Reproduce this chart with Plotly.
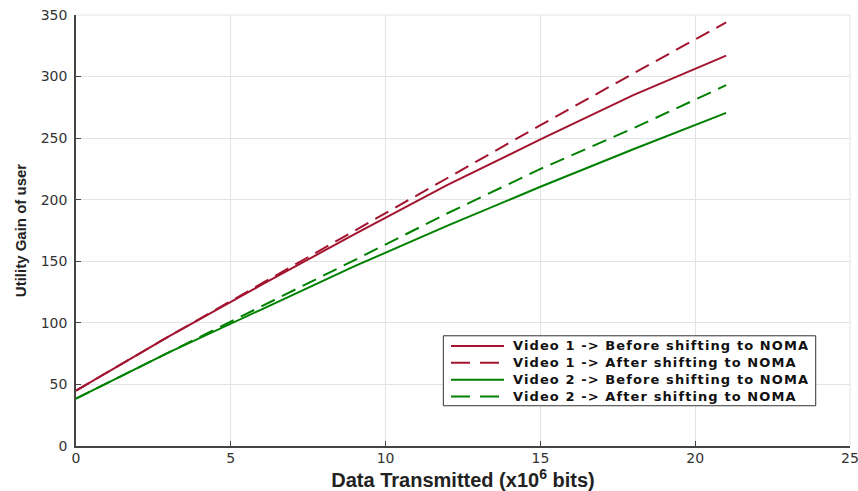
import plotly.graph_objects as go

x_vals = [0, 3, 6, 9, 12, 15, 18, 21]
video1_before = [45, 89, 131, 172, 212, 249, 285, 317]
video1_after = [45, 89, 132, 175, 218, 260.5, 302.5, 344]
video2_before = [38.5, 76, 111, 146, 179, 210.5, 241, 270.5]
video2_after = [38.5, 76, 113, 151, 189, 225, 258, 293]

names = ["Video 1 -> Before shifting to NOMA", "Video 1 -> After shifting to NOMA",
         "Video 2 -> Before shifting to NOMA", "Video 2 -> After shifting to NOMA"]
RED = "#A2142F"
GREEN = "#008000"
DASH = "15px,8px"

fig = go.Figure()
series = [(video1_before, RED, "solid"), (video1_after, RED, DASH),
          (video2_before, GREEN, "solid"), (video2_after, GREEN, DASH)]
for (ys, c, d), n in zip(series, names):
    fig.add_trace(go.Scatter(x=x_vals, y=ys, mode="lines", name=n, showlegend=False,
                             line=dict(color=c, width=2, dash=d)))

axis_common = dict(showgrid=True, gridcolor="#e3e3e3", gridwidth=1, ticks="inside", ticklen=5,
                   tickcolor="#444", showline=True, linecolor="#444", linewidth=1.5, mirror=False,
                   zeroline=False, automargin=False,
                   tickfont=dict(family="DejaVu Sans", size=14, color="#333"))

fig.update_layout(
    width=858, height=491,
    margin=dict(l=76, r=8, t=15, b=45),
    paper_bgcolor="white", plot_bgcolor="white",
    xaxis=dict(range=[0, 25], tickvals=[0, 5, 10, 15, 20, 25], ticklabeloverflow="allow",
               ticklabelstandoff=-2, **axis_common,
               title=dict(text="<b>Data Transmitted (x10<sup>6</sup> bits)</b>", standoff=9,
                          font=dict(family="Liberation Sans, Arial", size=20, color="#222"))),
    yaxis=dict(range=[0, 350], tickvals=list(range(0, 351, 50)), ticklabelstandoff=4, **axis_common,
               title=dict(text="<b>Utility Gain of user</b>", standoff=10,
                          font=dict(family="Liberation Sans, Arial", size=15, color="#222"))),
    showlegend=False,
)
fig.add_shape(type="line", xref="paper", yref="paper", x0=0, x1=1, y0=1, y1=1, line=dict(color="#e3e3e3", width=1))
fig.add_shape(type="line", xref="paper", yref="paper", x0=1, x1=1, y0=0, y1=1, line=dict(color="#e3e3e3", width=1))

# legend box (drawn manually to match the reference's compact layout)
fig.add_shape(type="rect", xref="paper", yref="paper", x0=0.4746, x1=0.9557, y0=0.0934, y1=0.2557,
              line=dict(color="#333", width=1), fillcolor="white", layer="above")
row_y = [0.2322, 0.1930, 0.1538, 0.1146]
for (ys, c, d), ry in zip(series, row_y):
    fig.add_shape(type="line", xref="paper", yref="paper", x0=0.4845, x1=0.5530, y0=ry, y1=ry,
                  line=dict(color=c, width=2, dash=("solid" if d == "solid" else "19px,10px")), layer="above")
legend_text = "<br>".join('<span style="letter-spacing:1.1px">' + n + "</span>" for n in names)
fig.add_annotation(xref="paper", yref="paper", x=0.5616, y=0.1734, xanchor="left", yanchor="middle",
                   align="left", text="<b>" + legend_text + "</b>", showarrow=False,
                   font=dict(family="DejaVu Sans", size=13, color="#111"))

fig.write_html("out.html")
